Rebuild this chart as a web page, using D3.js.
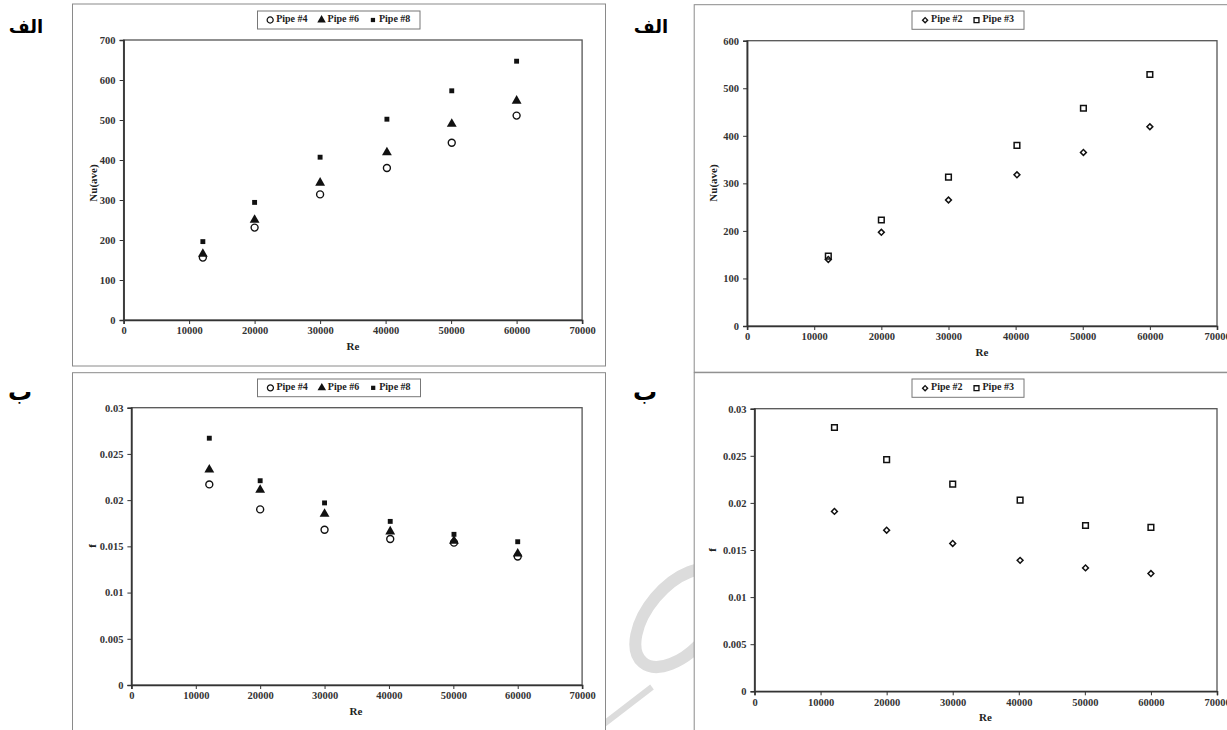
<!DOCTYPE html>
<html>
<head>
<meta charset="utf-8">
<script src="https://cdn.jsdelivr.net/npm/d3@7"></script>
<style>
  body { margin: 0; background: #fff; }
  svg { display: block; }
</style>
</head>
<body>
<svg id="chart" width="1227" height="730"></svg>
<script>
// Re values (same in all four panels)
var reValues = [12100, 20000, 30000, 40200, 50100, 60000];

// top row: average Nusselt number
var nuPipe4 = [156, 231, 314, 380, 443, 511];
var nuPipe6 = [165, 250, 343, 419, 490, 548];
var nuPipe8 = [196, 294, 407, 502, 573, 647];
var nuPipe2 = [140, 197, 265, 318, 365, 419];
var nuPipe3 = [147, 223, 313, 380, 458, 529];

// bottom row: friction factor
var fPipe4 = [0.0217, 0.0190, 0.0168, 0.0158, 0.0154, 0.0139];
var fPipe6 = [0.0233, 0.0211, 0.0185, 0.0166, 0.0156, 0.0142];
var fPipe8 = [0.0267, 0.0221, 0.0197, 0.0177, 0.0163, 0.0155];
var fPipe2 = [0.0191, 0.0171, 0.0157, 0.0139, 0.0131, 0.0125];
var fPipe3 = [0.0280, 0.0246, 0.0220, 0.0203, 0.0176, 0.0174];

var xTicks = [0, 10000, 20000, 30000, 40000, 50000, 60000, 70000];
var nuTicksA = [0, 100, 200, 300, 400, 500, 600, 700];
var nuTicksB = [0, 100, 200, 300, 400, 500, 600];
var fTicks = [0, 0.005, 0.01, 0.015, 0.02, 0.025, 0.03];

var panelLabels = ["الف", "ب"];

var serif = "'Liberation Serif', 'DejaVu Serif', serif";
var svg = d3.select("#chart");

// marker styles
var markers = {
    circle:   {type: d3.symbolCircle,   size: 38, fill: "none", stroke: "#111", sw: 1.4, rot: 0},
    triangle: {type: d3.symbolTriangle, size: 42, fill: "#111", stroke: "none", sw: 0, rot: 0},
    square:   {type: d3.symbolSquare,   size: 24, fill: "#111", stroke: "none", sw: 0, rot: 0},
    diamond:  {type: d3.symbolSquare,   size: 17, fill: "none", stroke: "#111", sw: 1.5, rot: 45},
    osquare:  {type: d3.symbolSquare,   size: 32, fill: "none", stroke: "#111", sw: 1.5, rot: 0}
};

// watermark (faint, behind everything), only visible in the gap between columns
svg.append("defs").append("clipPath").attr("id", "wmclip")
    .append("rect").attr("x", 606).attr("y", 372).attr("width", 88).attr("height", 358);
var wm = svg.append("g")
    .attr("clip-path", "url(#wmclip)")
    .attr("fill", "none").attr("stroke", "#dcdcdc");
wm.append("ellipse")
    .attr("cx", 680).attr("cy", 618).attr("rx", 58).attr("ry", 32)
    .attr("transform", "rotate(-50,680,618)")
    .attr("stroke-width", 12);
wm.append("line")
    .attr("x1", 600).attr("y1", 727).attr("x2", 652).attr("y2", 687)
    .attr("stroke-width", 6);

function drawPanel(cfg) {
    var g = svg.append("g");

    // outer frame
    g.append("rect")
        .attr("x", cfg.frame[0]).attr("y", cfg.frame[1])
        .attr("width", cfg.frame[2]).attr("height", cfg.frame[3])
        .attr("fill", "none").attr("stroke", "#8a8a8a").attr("stroke-width", 1);

    var x = d3.scaleLinear().domain([0, 70000]).range([cfg.plot.l, cfg.plot.r]);
    var y = d3.scaleLinear().domain(cfg.yDomain).range([cfg.plot.b, cfg.plot.t]);

    // plot box (top and right sides)
    g.append("rect")
        .attr("x", cfg.plot.l).attr("y", cfg.plot.t)
        .attr("width", cfg.plot.r - cfg.plot.l).attr("height", cfg.plot.b - cfg.plot.t)
        .attr("fill", "none").attr("stroke", "#555").attr("stroke-width", 1.3);

    var xAxis = g.append("g")
        .attr("transform", "translate(0," + cfg.plot.b + ")")
        .call(d3.axisBottom(x).tickValues(xTicks).tickFormat(d3.format("d")).tickSize(4).tickPadding(3));
    var yAxis = g.append("g")
        .attr("transform", "translate(" + cfg.plot.l + ",0)")
        .call(d3.axisLeft(y).tickValues(cfg.yTicks).tickFormat(cfg.yFormat).tickSize(4).tickPadding(4));

    [xAxis, yAxis].forEach(function(a) {
        a.select(".domain").attr("stroke", "#333").attr("stroke-width", 1.6);
        a.selectAll(".tick line").attr("stroke", "#333").attr("stroke-width", 1);
        a.selectAll(".tick text")
            .attr("font-family", serif).attr("font-size", "10.5px")
            .attr("font-weight", "bold").attr("fill", "#333");
    });

    // axis titles
    g.append("text")
        .attr("x", cfg.xTitle[0]).attr("y", cfg.xTitle[1])
        .attr("text-anchor", "middle").attr("dominant-baseline", "middle")
        .attr("font-family", serif).attr("font-size", "11px").attr("font-weight", "bold")
        .attr("fill", "#222")
        .text("Re");
    g.append("text")
        .attr("transform", "translate(" + cfg.yTitle[0] + "," + cfg.yTitle[1] + ") rotate(-90)")
        .attr("text-anchor", "middle").attr("dominant-baseline", "middle")
        .attr("font-family", serif).attr("font-size", "11px").attr("font-weight", "bold")
        .attr("fill", "#222")
        .text(cfg.yTitleText);

    // points
    cfg.series.forEach(function(s) {
        var m = markers[s.marker];
        g.selectAll(null)
            .data(s.values)
            .enter().append("path")
            .attr("d", d3.symbol().type(m.type).size(m.size))
            .attr("transform", function(d, i) {
                return "translate(" + x(reValues[i]) + "," + y(d) + ") rotate(" + m.rot + ")";
            })
            .attr("fill", m.fill).attr("stroke", m.stroke).attr("stroke-width", m.sw);
    });

    // legend
    var lg = g.append("g");
    lg.append("rect")
        .attr("x", cfg.legend[0]).attr("y", cfg.legend[1])
        .attr("width", cfg.legend[2]).attr("height", cfg.legend[3])
        .attr("fill", "#fff").attr("stroke", "#777").attr("stroke-width", 1);
    var items = lg.append("g");
    var cx = 0;
    var cy = cfg.legend[1] + cfg.legend[3] / 2;
    cfg.series.forEach(function(s, k) {
        var m = markers[s.marker];
        items.append("path")
            .attr("d", d3.symbol().type(m.type).size(m.size * 0.75))
            .attr("transform", "translate(" + (cx + 3) + "," + cy + ") rotate(" + m.rot + ")")
            .attr("fill", m.fill).attr("stroke", m.stroke).attr("stroke-width", m.sw * 0.9);
        var t = items.append("text")
            .attr("x", cx + 9).attr("y", cy)
            .attr("dominant-baseline", "middle")
            .attr("font-family", serif).attr("font-size", "10px").attr("font-weight", "bold")
            .attr("fill", "#222")
            .text(s.name);
        cx += 9 + t.node().getComputedTextLength() + 11;
    });
    var total = cx - 11;
    items.attr("transform", "translate(" + (cfg.legend[0] + (cfg.legend[2] - total) / 2) + ",0)");
}

var fmtF = function(d) { return d === 0 ? "0" : String(+d.toFixed(3)); };

drawPanel({
    frame: [72.5, 4, 533, 362],
    plot: {l: 123.6, t: 40, r: 582.1, b: 320},
    yDomain: [0, 700], yTicks: nuTicksA, yFormat: d3.format("d"),
    legend: [257.5, 11, 162.5, 18],
    xTitle: [353, 347], yTitle: [94, 183], yTitleText: "Nu(ave)",
    series: [
        {name: "Pipe #4", values: nuPipe4, marker: "circle"},
        {name: "Pipe #6", values: nuPipe6, marker: "triangle"},
        {name: "Pipe #8", values: nuPipe8, marker: "square"}
    ]
});

drawPanel({
    frame: [694.2, 4.7, 545, 367.5],
    plot: {l: 747.1, t: 40.7, r: 1217, b: 326},
    yDomain: [0, 600], yTicks: nuTicksB, yFormat: d3.format("d"),
    legend: [912, 11, 112, 18.3],
    xTitle: [982, 353], yTitle: [714.4, 183], yTitleText: "Nu(ave)",
    series: [
        {name: "Pipe #2", values: nuPipe2, marker: "diamond"},
        {name: "Pipe #3", values: nuPipe3, marker: "osquare"}
    ]
});

drawPanel({
    frame: [72.5, 372.7, 533, 370],
    plot: {l: 131.4, t: 407.7, r: 582.1, b: 685},
    yDomain: [0, 0.03], yTicks: fTicks, yFormat: fmtF,
    legend: [257.5, 379, 163, 17.7],
    xTitle: [356, 712], yTitle: [93, 546], yTitleText: "f",
    series: [
        {name: "Pipe #4", values: fPipe4, marker: "circle"},
        {name: "Pipe #6", values: fPipe6, marker: "triangle"},
        {name: "Pipe #8", values: fPipe8, marker: "square"}
    ]
});

drawPanel({
    frame: [694.2, 372.7, 545, 370],
    plot: {l: 754.5, t: 408.7, r: 1217, b: 691.3},
    yDomain: [0, 0.03], yTicks: fTicks, yFormat: fmtF,
    legend: [912, 379, 112, 18.3],
    xTitle: [985.5, 718], yTitle: [713, 550], yTitleText: "f",
    series: [
        {name: "Pipe #2", values: fPipe2, marker: "diamond"},
        {name: "Pipe #3", values: fPipe3, marker: "osquare"}
    ]
});

// Persian panel labels
var labelPos = [[26, 33, 0, 18], [651, 33, 0, 18], [20, 400, 1, 24], [645, 400, 1, 24]];
labelPos.forEach(function(p) {
    svg.append("text")
        .attr("x", p[0]).attr("y", p[1])
        .attr("text-anchor", "middle")
        .attr("font-family", "'DejaVu Sans', sans-serif")
        .attr("font-size", p[3] + "px").attr("font-weight", "bold")
        .attr("fill", "#000")
        .text(panelLabels[p[2]]);
});
</script>
</body>
</html>
